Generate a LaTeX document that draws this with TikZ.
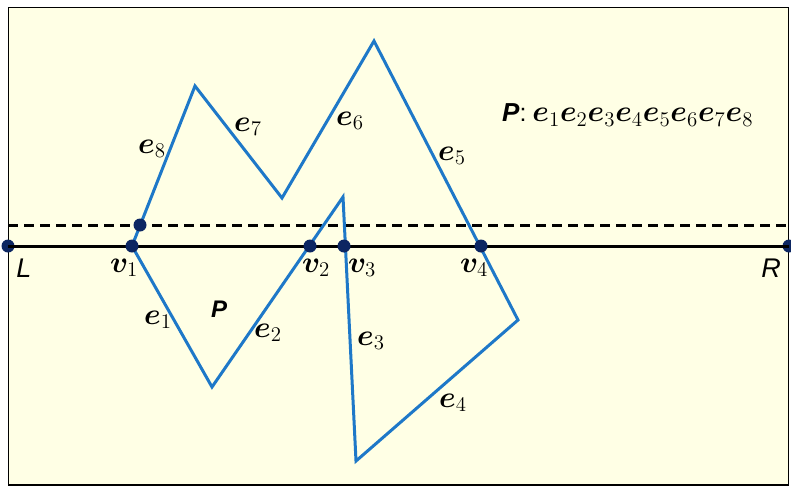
\documentclass[tikz,border=0pt]{standalone}
\usepackage{amsmath}
\usepackage{bm}
\usepackage{graphicx}
\usepackage{fontspec}
\setsansfont{Liberation Sans}
\definecolor{bgyellow}{RGB}{255,255,229}
\definecolor{polyblue}{RGB}{30,120,200}
\definecolor{dotnavy}{RGB}{12,38,98}
\newcommand{\emath}[1]{\scalebox{1.45}{\fontsize{20.74}{24}\selectfont$#1$}}
\newcommand{\stext}[2]{\scalebox{#1}{\sffamily\itshape\fontsize{10}{12}\selectfont #2}}
\newcommand{\sbtext}[2]{\scalebox{#1}{\sffamily\bfseries\itshape\fontsize{10}{12}\selectfont #2}}
\tikzset{
  poly/.style={draw=polyblue, line width=3pt, line join=miter},
  axis/.style={draw=black, line width=3pt},
  dashline/.style={draw=black, line width=3pt, dash pattern=on 10pt off 6pt},
  vdot/.style={circle, fill=dotnavy, inner sep=0pt, minimum size=13pt},
  elab/.style={inner sep=0pt},
  slab/.style={inner sep=0pt},
}
\begin{document}
\begin{tikzpicture}[x=1pt,y=-1pt]
\fill[white] (0,0) rectangle (791,488);
\useasboundingbox (0,0) rectangle (791,488);
\draw[fill=bgyellow, line width=1.8pt] (8.5,7.5) rectangle (788.5,485);
% polygon vertices
\coordinate (a) at (132,246);
\coordinate (b) at (212,387);
\coordinate (c) at (343,197);
\coordinate (d) at (356,461);
\coordinate (f) at (518,320);
\coordinate (g) at (374,41);
\coordinate (h) at (282,198);
\coordinate (k) at (195,86);
% lines
\coordinate (Ld) at (8,225);
\coordinate (Rd) at (789,225);
\draw[dashline] (Ld) -- (Rd);
\node[vdot] (L) at (8,246) {};
\node[vdot] (R) at (789,246) {};
\draw[axis] (L.center) -- (R.center);
\draw[poly] (a) -- (b) -- (c) -- (d) -- (f) -- (g) -- (h) -- (k) -- cycle;
% dots
\node[vdot] (v1) at (132,246) {};
\node[vdot] (v2) at (310,246) {};
\node[vdot] (v3) at (344,246) {};
\node[vdot] (v4) at (481,246) {};
\node[vdot] (w) at (140,225) {};
% labels
\node[slab] (Ll) at (24,268) {\stext{2.7}{L}};
\node[slab] (Rl) at (771,268) {\stext{2.7}{R}};
\node[elab] (v1l) at (124,268) {\emath{\bm{v}_1}};
\node[elab] (v2l) at (316,268) {\emath{\bm{v}_2}};
\node[elab] (v3l) at (362,268) {\emath{\bm{v}_3}};
\node[elab] (v4l) at (474,268) {\emath{\bm{v}_4}};
\node[elab] (e1) at (158,320) {\emath{\bm{e}_1}};
\node[elab] (e2) at (268,333) {\emath{\bm{e}_2}};
\node[elab] (e3) at (371,341) {\emath{\bm{e}_3}};
\node[elab] (e4) at (453,403) {\emath{\bm{e}_4}};
\node[elab] (e5) at (452,156) {\emath{\bm{e}_5}};
\node[elab] (e6) at (350,121) {\emath{\bm{e}_6}};
\node[elab] (e7) at (248,127) {\emath{\bm{e}_7}};
\node[elab] (e8) at (152,149) {\emath{\bm{e}_8}};
\node[slab] (P) at (219,309) {\sbtext{2.4}{P}};
\node[elab, anchor=west] (Pseq) at (502,115) {\sbtext{2.6}{P}\scalebox{2.5}{\sffamily\fontsize{10}{12}\selectfont :}\hspace{6pt}\emath{\bm{e}_1\bm{e}_2\bm{e}_3\bm{e}_4\bm{e}_5\bm{e}_6\bm{e}_7\bm{e}_8}};
\end{tikzpicture}
\end{document}
